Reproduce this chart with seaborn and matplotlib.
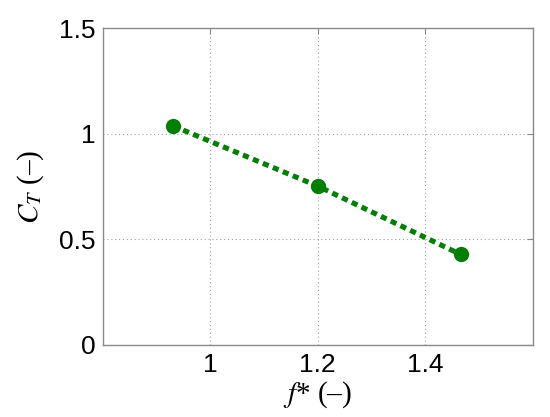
import matplotlib
matplotlib.use("Agg")
import matplotlib.pyplot as plt
import seaborn as sns
import pandas as pd

# values
f_star = [0.931, 1.20, 1.466]
c_t = [1.037, 0.752, 0.428]
x_ticks = [1, 1.2, 1.4]
x_tick_labels = ["1", "1.2", "1.4"]
y_ticks = [0, 0.5, 1, 1.5]
y_tick_labels = ["0", "0.5", "1", "1.5"]

sns.set_style("white")
plt.rcParams["font.family"] = ["Liberation Sans", "DejaVu Sans"]
plt.rcParams["mathtext.fontset"] = "stix"
plt.rcParams["text.color"] = "black"
plt.rcParams["axes.labelcolor"] = "black"
plt.rcParams["xtick.color"] = "black"
plt.rcParams["ytick.color"] = "black"

df = pd.DataFrame({"f": f_star, "ct": c_t})

fig = plt.figure(figsize=(5.5, 4.17), dpi=100)
ax = fig.add_axes([0.187, 0.1734, 0.7815, 0.7586])

sns.lineplot(data=df, x="f", y="ct", ax=ax, color="#007f00",
             linewidth=3.7, linestyle=(0, (1.2, 0.9)),
             marker="o", markersize=11, markeredgewidth=0,
             dash_capstyle="butt")

ax.set_xlim(0.8, 1.6)
ax.set_ylim(0, 1.5)
ax.set_xticks(x_ticks)
ax.set_xticklabels(x_tick_labels)
ax.set_yticks(y_ticks)
ax.set_yticklabels(y_tick_labels)
ax.grid(True, linestyle=(0, (1, 2.5)), color="#a0a0a0", linewidth=0.8)
ax.tick_params(direction="in", length=4, width=0.8, labelsize=19,
               right=True, top=True)
ax.tick_params(axis="x", pad=6)
ax.tick_params(axis="y", pad=5)
ax.tick_params(which="both", color="#888888")

for s in ax.spines.values():
    s.set_color("#8a8a8a")
    s.set_linewidth(1.0)

ax.set_xlabel(r"$f$* (–)", fontsize=21, family="Liberation Serif", labelpad=2)
ax.set_ylabel(r"$C_T$ (–)", fontsize=21, family="Liberation Serif", labelpad=10)

fig.savefig("out.png", dpi=100)
